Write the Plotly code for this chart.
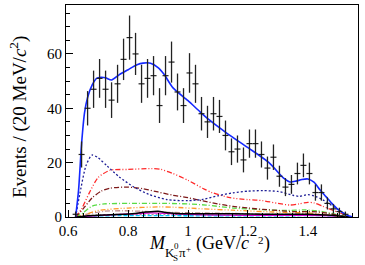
import numpy as np
import plotly.graph_objects as go

# ---- data points (bin centres, 20 MeV bins) ----
data_x = [0.625, 0.645, 0.665, 0.685, 0.705, 0.725, 0.745, 0.765, 0.785, 0.805,
          0.825, 0.845, 0.865, 0.885, 0.905, 0.925, 0.945, 0.965, 0.985, 1.005,
          1.025, 1.045, 1.065, 1.085, 1.105, 1.125, 1.145, 1.165, 1.185, 1.205,
          1.225, 1.245, 1.265, 1.285, 1.305, 1.325, 1.345, 1.365, 1.385, 1.405,
          1.425, 1.445, 1.465, 1.485, 1.505, 1.525]
data_y = [1, 23, 40, 47, 51, 47, 43, 49, 58, 66,
          60, 49, 51, 52, 41, 52, 57, 46, 41, 53,
          49, 38, 35, 38, 37, 30, 24, 25, 21, 27,
          27, 23, 18, 22, 15, 11, 12, 16, 19, 16,
          9, 9, 5, 3, 2, 1]

# ---- fit curves ----
total_x = [0.625, 0.635, 0.645, 0.655, 0.665, 0.68, 0.695, 0.71, 0.725, 0.745, 0.77, 0.80,
           0.83, 0.85, 0.875, 0.90, 0.92, 0.95, 1.0, 1.04, 1.07, 1.13, 1.2, 1.27, 1.32,
           1.34, 1.36, 1.38, 1.40, 1.42, 1.44, 1.46, 1.48, 1.50, 1.53, 1.55]
total_y = [0, 10, 27, 38.5, 44, 48.5, 51, 51.4, 51.2, 50.4, 52.3, 54.2,
           56, 56.6, 56.6, 55, 52.5, 47.5, 42.8, 38.7, 35.8, 30.8, 25.5, 20, 14.2,
           12.9, 13.2, 13.8, 14, 12.8, 10, 7.5, 5, 2.8, 0.7, 0]

navy_x = [0.625, 0.64, 0.66, 0.68, 0.70, 0.73, 0.77, 0.82, 0.87, 0.93, 1.0, 1.05, 1.1,
          1.15, 1.2, 1.25, 1.3, 1.35, 1.37, 1.4, 1.42, 1.45, 1.5, 1.53, 1.545]
navy_y = [0, 9, 19, 22.8, 21.8, 18.8, 14.8, 11, 8.3, 6.4, 6, 6.5, 7.8,
          8.9, 9.5, 9.7, 9.4, 8, 7.6, 8.2, 7.8, 6.3, 2.8, 0.8, 0]

red_x = [0.625, 0.645, 0.67, 0.70, 0.74, 0.8, 0.88, 0.91, 0.95, 1.0, 1.05, 1.08, 1.14,
         1.2, 1.25, 1.3, 1.34, 1.37, 1.4, 1.42, 1.45, 1.5, 1.545]
red_y = [0, 3, 8.7, 14.5, 17.2, 17.5, 17.8, 17.5, 16, 13.5, 10.5, 9, 7.1,
         6.4, 6, 5, 4.4, 4.8, 5.4, 5.2, 3.9, 1.8, 0]

maroon_x = [0.625, 0.65, 0.68, 0.71, 0.74, 0.8, 0.85, 0.9, 0.95, 1.0, 1.05, 1.1, 1.15,
            1.2, 1.25, 1.3, 1.35, 1.4, 1.43, 1.47, 1.5, 1.53]
maroon_y = [0, 3, 7, 9.5, 10.6, 11, 10.4, 9.2, 8, 7.1, 5.9, 4.8, 3.9,
            3.3, 2.8, 2.4, 2, 2, 1.9, 1.3, 0.6, 0]

green_x = [0.625, 0.65, 0.68, 0.72, 0.8, 0.93, 1.0, 1.06, 1.15, 1.25, 1.33, 1.39, 1.43,
           1.48, 1.52, 1.54]
green_y = [0, 1.5, 4, 4.8, 5, 5, 4.8, 4.4, 3.3, 2.7, 2.4, 2.6, 2.3, 1.3, 0.3, 0]

orange_x = [0.625, 0.66, 0.7, 0.8, 0.9, 0.95, 1.05, 1.15, 1.25, 1.35, 1.4, 1.45, 1.5, 1.54]
orange_y = [0, 1, 2.4, 3.3, 3.7, 3.6, 3, 2.5, 2, 1.6, 1.5, 1, 0.4, 0]

rosy_x = [0.625, 0.67, 0.72, 0.78, 0.85, 0.95, 1.05, 1.2, 1.3, 1.4, 1.5, 1.54]
rosy_y = [0, 1.2, 2.1, 2.3, 2.1, 1.7, 1.5, 1.2, 1.0, 1.2, 0.5, 0]

black_x = [0.625, 0.66, 0.72, 0.8, 0.86, 0.9, 0.93, 1.0, 1.1, 1.2, 1.3, 1.4, 1.48, 1.52, 1.55]
black_y = [0, 0.4, 0.7, 1.1, 1.8, 2.1, 1.6, 1.2, 1.2, 1.1, 1, 1, 0.6, 0.2, 0]

magenta_x = [0.625, 0.7, 0.82, 0.88, 0.95, 1.05, 1.2, 1.4, 1.5, 1.55]
magenta_y = [0, 0.5, 1.2, 1.5, 1.2, 0.8, 0.6, 0.6, 0.3, 0]

cyan_x = [0.625, 0.7, 0.9, 1.1, 1.3, 1.45, 1.55]
cyan_y = [0, 0.4, 0.5, 0.4, 0.4, 0.5, 0]

gray_x = [0.625, 0.7, 0.9, 1.1, 1.3, 1.45, 1.55]
gray_y = [0, 0.8, 0.9, 0.7, 0.6, 0.6, 0]

x_ticks = [0.6, 0.8, 1.0, 1.2, 1.4]
x_tick_labels = ["0.6", "0.8", "1", "1.2", "1.4"]
y_ticks = [0, 20, 40, 60]
y_tick_labels = ["0", "20", "40", "60"]

fig = go.Figure()

def comp(x, y, color, dash, width=1.3):
    fig.add_trace(go.Scatter(x=x, y=y, mode="lines",
                             line=dict(color=color, dash=dash, width=width, shape="spline", smoothing=0.7),
                             showlegend=False, hoverinfo="skip"))

comp(gray_x, gray_y, "rgb(150,150,150)", "2px,2px")
comp(cyan_x, cyan_y, "rgb(0,200,255)", "4px,2px")
comp(magenta_x, magenta_y, "rgb(220,0,220)", "solid")
comp(rosy_x, rosy_y, "rgb(190,140,140)", "5px,2px,1px,2px")
comp(orange_x, orange_y, "rgb(255,150,40)", "5px,2px,1px,2px,1px,2px")
comp(green_x, green_y, "rgb(90,220,70)", "5px,2px,1px,2px")
comp(maroon_x, maroon_y, "rgb(125,25,25)", "5px,2px,1px,2px")
comp(red_x, red_y, "rgb(255,40,40)", "5px,2px,1px,2px,1px,2px")
comp(navy_x, navy_y, "rgb(30,30,150)", "2px,2px")
comp(black_x, black_y, "black", "solid", 1.5)
comp(total_x, total_y, "rgb(20,40,255)", "solid", 1.6)

fig.add_trace(go.Scatter(
    x=data_x, y=data_y, mode="markers",
    marker=dict(size=1, color="black"),
    error_y=dict(type="data", array=list(np.sqrt(data_y)), color="#222", thickness=1.3, width=0),
    error_x=dict(type="constant", value=0.01, color="#222", thickness=1.2, width=0),
    showlegend=False, hoverinfo="skip"))

serif = "Liberation Serif, Times New Roman, serif"
L, R, T, B = 66, 358, 5, 217


def px(xp):
    return (xp - L) / (R - L)


def py(yp):
    return (B - yp) / (B - T)


def label(text, x_left, y_mid, size):
    fig.add_annotation(text=text, xref="paper", yref="paper", x=px(x_left), y=py(y_mid),
                       xanchor="left", yanchor="middle", showarrow=False, borderpad=0,
                       font=dict(family=serif, size=size, color="black"))


# x-axis title pieces: M_{K_S^0 pi^+} (GeV/c^2)
label("<i>M</i>", 148, 243, 18)
label("K", 164, 252.5, 13)
label("S", 172, 257.5, 9)
label("0", 172.5, 245.5, 9)
label("π", 178, 252.5, 13)
label("+", 185, 248.5, 9)
label("(GeV/<i>c</i>", 195, 243, 18)
label("2", 256.5, 239.5, 11)
label(")", 263, 243, 18)

# y-axis title
fig.add_annotation(text="Events / (20 MeV/<i>c</i><sup>2</sup>)", xref="paper", yref="paper",
                   x=px(18), y=py(117), xanchor="center", yanchor="middle", textangle=-90,
                   showarrow=False, font=dict(family=serif, size=19, color="black"))

fig.update_layout(
    width=365, height=265,
    margin=dict(l=L, r=365 - R, t=T, b=265 - B),
    paper_bgcolor="white", plot_bgcolor="white",
    font=dict(family=serif, color="black", size=15),
    xaxis=dict(range=[0.593, 1.567], tickvals=x_ticks, ticktext=x_tick_labels,
               ticks="inside", ticklen=7, tickwidth=1, tickcolor="black",
               minor=dict(ticks="inside", ticklen=4, dtick=0.05, tick0=0.6, tickcolor="black"),
               showline=True, linecolor="black", linewidth=1, mirror=True,
               showgrid=False, zeroline=False, tickfont=dict(size=15), automargin=False),
    yaxis=dict(range=[0, 78], tickvals=y_ticks, ticktext=y_tick_labels,
               ticks="inside", ticklen=7, tickwidth=1, tickcolor="black",
               minor=dict(ticks="inside", ticklen=4, dtick=5, tickcolor="black"),
               showline=True, linecolor="black", linewidth=1, mirror=True,
               showgrid=False, zeroline=False, tickfont=dict(size=15), automargin=False),
)

fig.write_html("out.html", config={"displayModeBar": False},
               post_script="document.body.style.margin='0';document.body.style.overflow='hidden';")
